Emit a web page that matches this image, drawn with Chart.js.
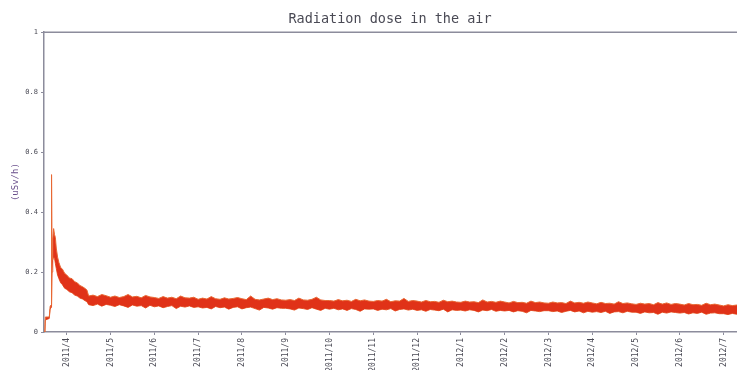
<!DOCTYPE html>
<html>
<head>
<meta charset="utf-8">
<script src="https://cdn.jsdelivr.net/npm/chart.js@4"></script>
<style>
  html, body { margin:0; padding:0; background:#fff; overflow:hidden; }
  #wrap { position:relative; width:780px; height:390px; }
</style>
</head>
<body>
<div id="wrap"><canvas id="chart"></canvas></div>
<script>
// month ticks, 0 = 2011/4
const tickLabels = ['2011/4','2011/5','2011/6','2011/7','2011/8','2011/9','2011/10','2011/11',
    '2011/12','2012/1','2012/2','2012/3','2012/4','2012/5','2012/6','2012/7'];

// first weeks after the accident, fine steps (x in months from 2011/4)
const riseMonth = [-0.50,-0.49,-0.40,-0.38,-0.36,-0.35,-0.345,-0.335,-0.32,-0.30,-0.28,-0.26,-0.24,
    -0.21,-0.18,-0.14,-0.10,-0.05,0.0,0.06,0.12,0.18,0.24,0.30,0.36,0.42,0.46];
const riseHigh = [0,0.05,0.05,0.085,0.09,0.095,0.525,0.24,0.31,0.345,0.325,0.315,0.28,
    0.25,0.232,0.215,0.21,0.196,0.19,0.18,0.178,0.168,0.164,0.155,0.151,0.145,0.14];
const riseLow = [0,0.04,0.045,0.075,0.082,0.085,0.09,0.20,0.24,0.25,0.246,0.228,0.212,
    0.19,0.178,0.164,0.158,0.146,0.142,0.134,0.131,0.123,0.12,0.113,0.11,0.104,0.101];

// after that: one high/low pair every 0.1 month, from month 0.5
const dailyStart = 0.5;
const dailyStep = 0.1;
const dailyHigh = [
    .120,.123,.118,.125,.121,
    .116,.120,.115,.118,.125,.117,.119,.114,.122,.117,
    .115,.112,.118,.113,.116,.111,.120,.114,.113,.116,
    .109,.113,.110,.118,.111,.109,.114,.110,.112,.115,
    .111,.108,.120,.109,.107,.110,.113,.108,.111,.107,
    .106,.108,.105,.113,.107,.106,.109,.116,.107,.105,
    .105,.103,.108,.104,.106,.102,.109,.104,.107,.103,
    .102,.105,.103,.109,.101,.104,.103,.112,.102,.105,
    .103,.100,.105,.101,.102,.099,.106,.101,.103,.100,
    .099,.103,.100,.101,.098,.107,.100,.102,.099,.103,
    .100,.097,.102,.098,.099,.096,.103,.098,.100,.097,
    .096,.100,.097,.098,.095,.103,.097,.099,.096,.100,
    .097,.094,.099,.095,.096,.093,.101,.095,.097,.094,
    .092,.096,.093,.095,.091,.098,.093,.097,.092,.095,
    .093,.090,.095,.091,.092,.089,.096,.091,.093,.090,
    .087,.091,.088,.090,.086,.093,.088,.091,.087,.090,
    .089,.086,.088];
const dailyLow = [
    .091,.088,.093,.086,.092,
    .089,.085,.091,.087,.082,.090,.086,.088,.080,.089,
    .084,.087,.081,.085,.088,.078,.086,.083,.087,.082,
    .084,.080,.082,.077,.085,.081,.083,.076,.082,.084,
    .077,.081,.083,.078,.073,.082,.080,.076,.081,.079,
    .079,.077,.073,.080,.078,.075,.081,.076,.072,.079,
    .076,.079,.074,.077,.072,.078,.075,.069,.077,.076,
    .077,.072,.076,.074,.078,.070,.075,.077,.073,.076,
    .072,.074,.069,.075,.073,.071,.076,.067,.074,.072,
    .073,.070,.074,.072,.067,.073,.071,.075,.069,.072,
    .070,.072,.067,.071,.069,.064,.072,.070,.068,.071,
    .071,.068,.070,.065,.069,.072,.067,.070,.064,.069,
    .066,.068,.065,.069,.062,.067,.068,.064,.069,.066,
    .066,.062,.067,.064,.065,.059,.066,.063,.067,.065,
    .063,.065,.060,.064,.062,.066,.059,.063,.064,.061,
    .061,.058,.062,.059,.055,.061,.060,.057,.062,.060,
    .059,.061,.058];

const yTicks = [0, 0.2, 0.4, 0.6, 0.8, 1];

const AXIS = '#8c8c9c';
const TEXT = '#4a4a55';
const MONO = "'DejaVu Sans Mono', 'Liberation Mono', monospace";

function buildSeries(rise, daily) {
    const pts = riseMonth.map((m, i) => ({x: m, y: rise[i]}));
    daily.forEach((v, i) => pts.push({x: dailyStart + i * dailyStep, y: v}));
    return pts;
}

const topBorder = {
    id: 'topBorder',
    afterDraw(chart) {
        const {ctx, chartArea} = chart;
        ctx.save();
        ctx.strokeStyle = AXIS;
        ctx.lineWidth = 1.5;
        ctx.beginPath();
        ctx.moveTo(chartArea.left, chartArea.top);
        ctx.lineTo(chartArea.right, chartArea.top);
        ctx.stroke();
        ctx.restore();
    }
};

new Chart(document.getElementById('chart'), {
    type: 'line',
    data: {
        datasets: [
            {data: buildSeries(riseHigh, dailyHigh), borderColor: 'rgb(232,104,52)', borderWidth: 1,
             backgroundColor: 'rgb(224,50,24)', fill: '+1', pointRadius: 0, tension: 0},
            {data: buildSeries(riseLow, dailyLow), borderColor: 'rgb(232,104,52)', borderWidth: 1,
             fill: false, pointRadius: 0, tension: 0}
        ]
    },
    options: {
        responsive: true,
        maintainAspectRatio: false,
        animation: false,
        layout: {padding: 0},
        plugins: {
            legend: {display: false},
            tooltip: {enabled: false},
            title: {
                display: true, text: 'Radiation dose in the air', color: TEXT,
                font: {family: MONO, size: 13.5, weight: 'normal'},
                padding: {top: 11, bottom: 5}
            }
        },
        scales: {
            x: {
                type: 'linear', min: -0.52, max: 16.18,
                afterFit: s => { s.height = 58; },
                border: {color: AXIS, width: 1.5},
                grid: {display: true, drawOnChartArea: false, tickLength: 3, color: AXIS},
                ticks: {
                    stepSize: 1, includeBounds: false, autoSkip: false,
                    minRotation: 90, maxRotation: 90, padding: 3,
                    color: TEXT, font: {family: MONO, size: 8},
                    callback: v => Number.isInteger(v) ? (tickLabels[v] ?? '') : ''
                }
            },
            y: {
                min: 0, max: 1,
                afterFit: s => { s.width = 44; },
                afterBuildTicks: s => { s.ticks = yTicks.map(v => ({value: v})); },
                border: {color: AXIS, width: 1.5},
                grid: {display: true, drawOnChartArea: false, tickLength: 3, color: AXIS},
                ticks: {color: TEXT, padding: 3, font: {family: MONO, size: 7},
                        callback: v => String(v)},
                title: {
                    display: true, text: '(uSv/h)', color: '#6a4f8c',
                    font: {family: MONO, size: 9}, padding: {top: 10, bottom: 0}
                }
            }
        }
    },
    plugins: [topBorder]
});
</script>
</body>
</html>
